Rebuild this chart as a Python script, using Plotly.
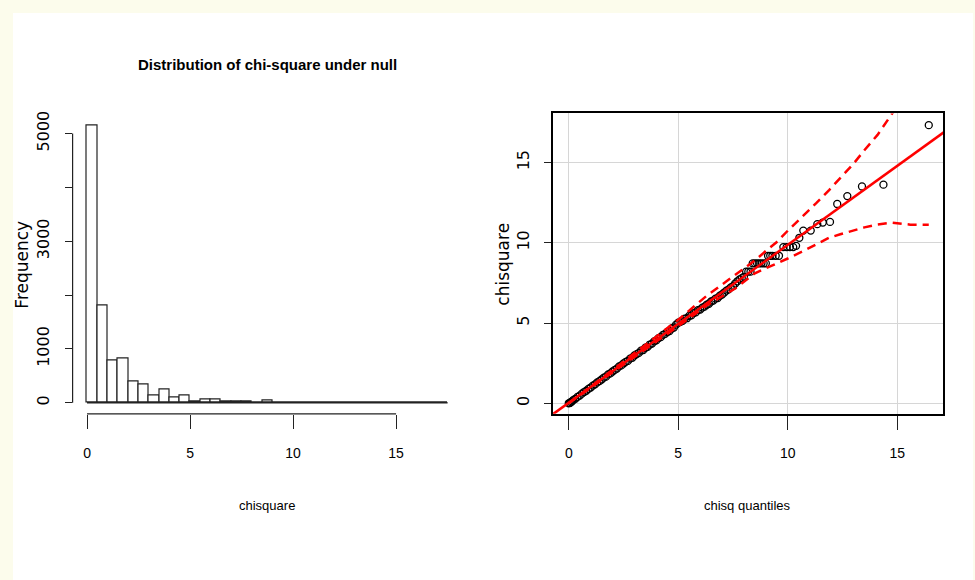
import plotly.graph_objects as go

# ---------------- data ----------------
# Histogram: bin edges 0..17.5 step 0.5, counts
bin_left = [i * 0.5 for i in range(35)]
bin_width = 0.5
hist_counts = [5153, 1798, 785, 816, 393, 331, 129, 245, 92, 129,
               31, 67, 67, 31, 25, 25, 5, 35, 5, 6,
               4, 3, 4, 1, 1, 1, 1, 2, 0, 0,
               0, 0, 0, 0, 1]
hist_xticks = [0, 5, 10, 15]
hist_yticks = [0, 1000, 2000, 3000, 4000, 5000]
hist_ytext = ["0", "1000", "", "3000", "", "5000"]

# QQ plot: theoretical chisq quantiles vs observed chisquare
qq_x = [0.0, 0.05, 0.1, 0.15, 0.2, 0.3, 0.4, 0.5, 0.6, 0.7, 0.8, 0.9, 1.0, 1.1, 1.2,
        1.3, 1.4, 1.5, 1.6, 1.7, 1.8, 1.9, 2.0, 2.1, 2.2, 2.3, 2.4, 2.5, 2.6, 2.7,
        2.8, 2.9, 3.0, 3.1, 3.2, 3.3, 3.4, 3.5, 3.6, 3.7, 3.8, 3.9, 4.0, 4.1, 4.2,
        4.3, 4.4, 4.5, 4.6, 4.7, 4.8, 4.9, 5.0, 5.1, 5.2, 5.3, 5.4, 5.5, 5.6, 5.7,
        5.8, 5.9, 6.0, 6.1, 6.2, 6.3, 6.4, 6.5, 6.6, 6.7, 6.8, 6.9, 7.0, 7.1, 7.2,
        7.3, 7.4, 7.5, 7.6, 7.7, 7.8, 7.9, 8.0, 8.1, 8.2, 8.3, 8.4, 8.5, 8.6, 8.7,
        8.8, 8.9, 9.0, 9.1, 9.2, 9.3, 9.45, 9.6, 9.8, 9.95, 10.1, 10.25, 10.38, 10.53,
        10.71, 11.05, 11.35, 11.6, 11.93, 12.26, 12.72, 13.39, 14.37, 16.44]
qq_y = [0.0, 0.02, 0.08, 0.12, 0.2, 0.28, 0.4, 0.48, 0.6, 0.7, 0.78, 0.9, 0.98, 1.1, 1.18,
        1.3, 1.38, 1.48, 1.6, 1.66, 1.8, 1.86, 1.98, 2.08, 2.16, 2.3, 2.36, 2.48, 2.58, 2.64,
        2.78, 2.84, 2.98, 3.06, 3.14, 3.28, 3.32, 3.46, 3.52, 3.66, 3.72, 3.86, 3.92, 4.06, 4.12,
        4.26, 4.32, 4.44, 4.5, 4.66, 4.72, 4.9, 5.02, 5.08, 5.14, 5.28, 5.3, 5.44, 5.48, 5.62,
        5.66, 5.8, 5.84, 5.96, 6.02, 6.14, 6.2, 6.34, 6.4, 6.52, 6.56, 6.7, 6.78, 6.9, 7.02,
        7.1, 7.22, 7.3, 7.46, 7.6, 7.72, 7.8, 7.88, 8.2, 8.2, 8.2, 8.72, 8.72, 8.72, 8.72,
        8.72, 8.72, 8.72, 9.19, 9.19, 9.19, 9.19, 9.19, 9.73, 9.73, 9.73, 9.73, 9.81, 10.31,
        10.76, 10.76, 11.16, 11.26, 11.30, 12.42, 12.91, 13.51, 13.62, 17.33]

# reference line (intercept, slope)
ref_line = [0.03, 0.984]

# confidence envelope
env_x = [0, 1, 2, 3, 4, 5, 6.3, 7.6, 8.5, 9.0, 9.5, 10.0, 10.7, 11.3, 11.9, 12.4,
         13.0, 13.5, 14.1, 14.75, 15.6, 16.1, 16.44]
env_upper = [0, 1.03, 2.06, 3.1, 4.15, 5.2, 6.7, 8.0, 8.9, 9.49, 10.05, 10.75, 11.65,
             12.47, 13.3, 14.02, 14.92, 15.77, 16.72, 18.02, 19.6, 20.4, 21.0]
env_lower = [0, 0.97, 1.95, 2.9, 3.85, 4.8, 6.1, 7.15, 8.1, 8.41, 8.7, 9.02, 9.48,
             9.91, 10.32, 10.53, 10.77, 10.96, 11.14, 11.25, 11.13, 11.13, 11.12]
qq_ticks = [0, 5, 10, 15]

# ---------------- layout constants ----------------
W, H = 975, 580
def px(x):
    return x / W
def py(y):
    return 1 - y / H

narrow = "Liberation Sans Narrow, Arial Narrow, Liberation Sans, Arial, sans-serif"
wide = "DejaVu Sans, Verdana, sans-serif"
ink = "#222222"

fig = go.Figure()

# histogram bars
fig.add_trace(go.Bar(
    x=[b + bin_width / 2 for b in bin_left], y=hist_counts, width=bin_width,
    marker=dict(color="white", line=dict(color=ink, width=1.2)),
    xaxis="x", yaxis="y", hoverinfo="skip", showlegend=False))
# baseline of zero-height bars
fig.add_trace(go.Scatter(
    x=[bin_left[0], bin_left[-1] + bin_width], y=[0, 0], mode="lines",
    line=dict(color=ink, width=1.5), xaxis="x", yaxis="y",
    hoverinfo="skip", showlegend=False))

# QQ plot
fig.add_trace(go.Scatter(
    x=qq_x, y=qq_y, mode="markers",
    marker=dict(symbol="circle-open", size=7, color="black", line=dict(width=1.3)),
    xaxis="x2", yaxis="y2", hoverinfo="skip", showlegend=False))
line_x = [-1, 18]
fig.add_trace(go.Scatter(
    x=line_x, y=[ref_line[0] + ref_line[1] * v for v in line_x], mode="lines",
    line=dict(color="#ff0000", width=2.5), xaxis="x2", yaxis="y2",
    hoverinfo="skip", showlegend=False))
for env in (env_upper, env_lower):
    fig.add_trace(go.Scatter(
        x=env_x, y=env, mode="lines",
        line=dict(color="#ff0000", width=2.5, dash="9px,6px"), xaxis="x2", yaxis="y2",
        hoverinfo="skip", showlegend=False))

hist_dom_x = [px(72.6), px(462)]
qq_dom_x = [px(553), px(943)]
dom_y = [py(413), py(111)]

xt = dict(ticks="outside", ticklen=14, tickcolor=ink, tickwidth=1,
          tickfont=dict(family=narrow, size=14, color="black"),
          showline=False, zeroline=False, ticklabelstandoff=12)
yt = dict(ticks="outside", ticklen=7, tickcolor=ink, tickwidth=1, tickangle=-90,
          tickfont=dict(family=wide, size=16, color="black"),
          zeroline=False, ticklabelstandoff=9)

fig.update_layout(
    width=W, height=H, margin=dict(l=0, r=0, t=0, b=0),
    paper_bgcolor="#fcfcec", plot_bgcolor="rgba(0,0,0,0)",
    bargap=0, showlegend=False,
    xaxis=dict(domain=hist_dom_x, range=[-0.7, 18.2], anchor="y",
               tickvals=hist_xticks, showgrid=False, **xt),
    yaxis=dict(domain=dom_y, range=[-207, 5373], anchor="x",
               tickvals=hist_yticks, ticktext=hist_ytext, showgrid=False,
               showline=False, **yt),
    xaxis2=dict(domain=qq_dom_x, range=[-0.72, 17.09], anchor="y2",
                tickvals=qq_ticks, showgrid=True, gridcolor="#d6d6d6", gridwidth=1.2,
                **xt),
    yaxis2=dict(domain=dom_y, range=[-0.66, 18.06], anchor="x2",
                tickvals=qq_ticks, showgrid=True, gridcolor="#d6d6d6", gridwidth=1.2,
                showline=True, mirror=True, linecolor="black", linewidth=1.5, **yt),
)
fig.update_layout(xaxis2_showline=True, xaxis2_mirror=True,
                  xaxis2_linecolor="black", xaxis2_linewidth=1.5)

shapes = [
    # white page panel
    dict(type="rect", xref="paper", yref="paper", x0=px(13), x1=px(973), y0=0, y1=py(10),
         fillcolor="white", line=dict(width=0), layer="below"),
    # histogram x-axis line (R style, spans tick range)
    dict(type="line", xref="x", yref="paper", x0=hist_xticks[0], x1=hist_xticks[-1],
         y0=dom_y[0], y1=dom_y[0], line=dict(color=ink, width=1.2)),
    # histogram y-axis line
    dict(type="line", xref="paper", yref="y", x0=hist_dom_x[0], x1=hist_dom_x[0],
         y0=hist_yticks[0], y1=hist_yticks[-1], line=dict(color=ink, width=1.2)),
]
fig.update_layout(shapes=shapes)

annotations = [
    dict(text="<b>Distribution of chi-square under null</b>", x=px(267), y=py(62),
         font=dict(family=narrow, size=15, color="black")),
    dict(text="chisquare", x=px(267), y=py(505), font=dict(family=narrow, size=13, color="black")),
    dict(text="chisq quantiles", x=px(747), y=py(505), font=dict(family=narrow, size=13, color="black")),
    dict(text="Frequency", x=px(22), y=py(263), textangle=-90,
         font=dict(family=wide, size=17, color="black")),
    dict(text="chisquare", x=px(503), y=py(262), textangle=-90,
         font=dict(family=wide, size=17, color="black")),
]
for a in annotations:
    a.update(xref="paper", yref="paper", showarrow=False, xanchor="center", yanchor="middle")
fig.update_layout(annotations=annotations)

fig.write_html("out.html", config={"displayModeBar": False},
               post_script="document.body.style.margin='0';document.body.style.background='#fcfcec';")
